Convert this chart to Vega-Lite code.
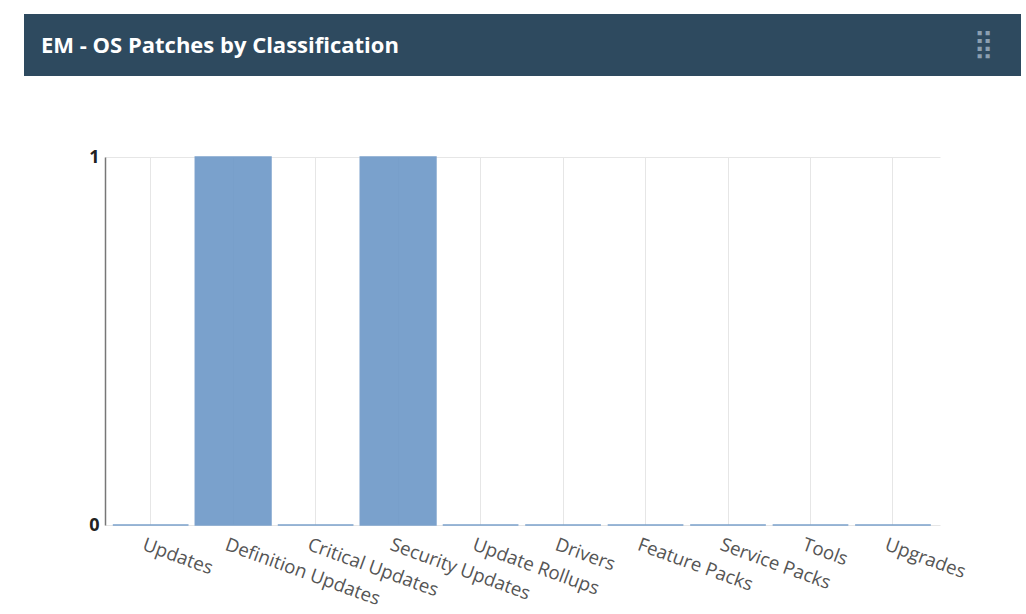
{
  "$schema": "https://vega.github.io/schema/vega-lite/v6.json",
  "background": "white",
  "padding": {"left": 24, "top": 14, "right": 0, "bottom": 0},
  "spacing": 81,
  "bounds": "flush",
  "config": {
    "view": {"stroke": null},
    "font": "Open Sans"
  },
  "vconcat": [
    {
      "width": 997,
      "height": 62,
      "view": {"fill": "#2e4a5f", "stroke": null},
      "layer": [
        {
          "data": {"values": [{"heading": "EM - OS Patches by Classification"}]},
          "mark": {"type": "text", "align": "left", "baseline": "middle", "dx": 17, "dy": 1, "font": "Open Sans", "fontWeight": "bold", "fontSize": 22, "color": "#ffffff"},
          "encoding": {
            "x": {"datum": 0, "type": "quantitative", "scale": {"domain": [0, 1]}, "axis": null},
            "text": {"field": "heading"}
          }
        },
        {
          "data": {"values": [{"icon": "⣿"}]},
          "mark": {"type": "text", "align": "right", "baseline": "middle", "dx": -27, "font": "DejaVu Sans", "fontSize": 28, "color": "#8b9fb0"},
          "encoding": {
            "x": {"datum": 1, "type": "quantitative", "scale": {"domain": [0, 1]}, "axis": null},
            "text": {"field": "icon"}
          }
        }
      ]
    },
    {
      "spacing": 0,
      "bounds": "flush",
      "hconcat": [
        {
          "width": 81,
          "height": 368,
          "data": {"values": []},
          "mark": "text",
          "encoding": {}
        },
        {
          "width": 835,
          "height": 368,
          "data": {
            "values": [
              {"classification": "Updates", "count": 0},
              {"classification": "Definition Updates", "count": 1},
              {"classification": "Critical Updates", "count": 0},
              {"classification": "Security Updates", "count": 1},
              {"classification": "Update Rollups", "count": 0},
              {"classification": "Drivers", "count": 0},
              {"classification": "Feature Packs", "count": 0},
              {"classification": "Service Packs", "count": 0},
              {"classification": "Tools", "count": 0},
              {"classification": "Upgrades", "count": 0}
            ]
          },
          "mark": {"type": "bar", "fill": "#6c97c6", "fillOpacity": 0.9, "stroke": "#7ba1cc", "strokeWidth": 1.5},
          "encoding": {
            "x": {
              "field": "classification",
              "type": "nominal",
              "sort": null,
              "scale": {"paddingInner": 0.082, "paddingOuter": 0.103, "align": 0.46},
              "axis": {
                "title": null,
                "domain": false,
                "ticks": false,
                "grid": true,
                "bandPosition": 0.5,
                "gridColor": "#e6e6e6",
                "gridWidth": 1,
                "labelAngle": 20,
                "labelAlign": "left",
                "labelBaseline": "top",
                "labelPadding": 10,
                "labelOffset": -4,
                "labelFont": "Open Sans",
                "labelFontSize": 18.7,
                "labelColor": "#555555",
                "labelOverlap": false
              }
            },
            "y": {
              "field": "count",
              "type": "quantitative",
              "scale": {"domain": [0, 1], "nice": false},
              "axis": {
                "title": null,
                "values": [0, 0.2, 0.4, 0.6, 0.8, 1],
                "format": "d",
                "labelExpr": "datum.value == 0 || datum.value == 1 ? datum.label : ''",
                "ticks": false,
                "domain": true,
                "domainColor": "#777777",
                "domainWidth": 1.5,
                "grid": true,
                "gridColor": "#e6e6e6",
                "labelFont": "Open Sans",
                "labelFontWeight": "bold",
                "labelFontSize": 18,
                "labelColor": "#222222",
                "labelPadding": 6
              }
            }
          }
        }
      ]
    }
  ]
}
